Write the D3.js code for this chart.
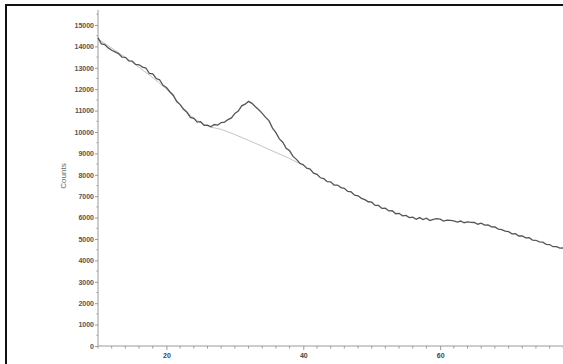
<!DOCTYPE html>
<html><head><meta charset="utf-8">
<script src="https://cdn.jsdelivr.net/npm/d3@7"></script>
<style>body{margin:0;background:#fff}svg{display:block}</style>
</head><body>
<script>
const angles = [10.0,10.5,11.0,11.5,12.0,12.5,13.0,13.5,14.0,14.5,15.0,15.5,16.0,16.5,17.0,17.5,18.0,18.5,19.0,19.5,20.0,20.5,21.0,21.5,22.0,22.5,23.0,23.5,24.0,24.5,25.0,25.5,26.0,26.5,27.0,27.5,28.0,28.5,29.0,29.5,30.0,30.5,31.0,31.5,32.0,32.5,33.0,33.5,34.0,34.5,35.0,35.5,36.0,36.5,37.0,37.5,38.0,38.5,39.0,39.5,40.0,40.5,41.0,41.5,42.0,42.5,43.0,43.5,44.0,44.5,45.0,45.5,46.0,46.5,47.0,47.5,48.0,48.5,49.0,49.5,50.0,50.5,51.0,51.5,52.0,52.5,53.0,53.5,54.0,54.5,55.0,55.5,56.0,56.5,57.0,57.5,58.0,58.5,59.0,59.5,60.0,60.5,61.0,61.5,62.0,62.5,63.0,63.5,64.0,64.5,65.0,65.5,66.0,66.5,67.0,67.5,68.0,68.5,69.0,69.5,70.0,70.5,71.0,71.5,72.0,72.5,73.0,73.5,74.0,74.5,75.0,75.5,76.0,76.5,77.0,77.5,78.0,78.5,79.0,79.5,80.0];
const counts = [14400,14120,14080,13930,13820,13740,13660,13500,13490,13320,13310,13160,13140,13030,12990,12740,12720,12500,12440,12180,12080,11880,11720,11420,11280,11060,10920,10680,10640,10460,10480,10310,10320,10240,10350,10320,10440,10460,10580,10660,10870,10980,11220,11300,11430,11340,11180,11040,10870,10680,10520,10180,9970,9680,9520,9240,9120,8860,8720,8540,8470,8310,8270,8080,8020,7860,7820,7680,7670,7520,7520,7400,7370,7220,7200,7050,7020,6900,6840,6740,6720,6570,6570,6430,6440,6310,6320,6180,6200,6080,6100,6000,6020,5920,6000,5910,5970,5860,5920,5950,5930,5840,5880,5870,5850,5790,5840,5760,5800,5780,5770,5690,5740,5650,5660,5570,5560,5460,5440,5370,5340,5240,5250,5140,5140,5050,5060,4950,4940,4870,4850,4750,4740,4640,4640,4570,4580,4490,4500,4420,4410];
const bgAngles = [10,15,20,24,26,28,30,32,34,36,38,40];
const bgCounts = [14350,13250,12000,10650,10280,10120,9880,9610,9330,9040,8760,8430];
const yTicks = [0,1000,2000,3000,4000,5000,6000,7000,8000,9000,10000,11000,12000,13000,14000,15000];
const xTicks = [20,40,60];
const xMinor = [10,12,14,16,18,22,24,26,28,30,32,34,36,38,42,44,46,48,50,52,54,56,58,62,64,66,68,70,72,74,76,78,80];
const yLabel = "Counts";

const W = 563, H = 364;
const svg = d3.select("body").append("svg").attr("width", W).attr("height", H);
const font = "Liberation Sans, Arial, sans-serif";

// frame
svg.append("rect").attr("x",6).attr("y",5).attr("width",800).attr("height",800)
  .attr("fill","none").attr("stroke","#111").attr("stroke-width",2);

const x = d3.scaleLinear().domain([10,80]).range([98,577]);
const y = d3.scaleLinear().domain([0,15700]).range([346,10]);

const axisCol = "#9a9a9a";
// y axis
const ya = svg.append("g").attr("transform","translate(98,0)")
  .call(d3.axisLeft(y).tickValues(yTicks).tickSize(3).tickPadding(1).tickFormat(d3.format("d")));
ya.select(".domain").remove();
ya.selectAll("line").attr("stroke",axisCol);
ya.selectAll("text").attr("font-family",font).attr("font-size",7).attr("font-weight","bold").attr("fill","#555");
svg.append("line").attr("x1",98).attr("x2",98).attr("y1",10).attr("y2",y(0)).attr("stroke",axisCol);
const yMinor = yTicks.map(v=>v+500);
svg.append("g").selectAll("line").data(yMinor).join("line")
  .attr("x1",96.5).attr("x2",98).attr("y1",d=>y(d)).attr("y2",d=>y(d)).attr("stroke",axisCol);

// x axis
const xa = svg.append("g").attr("transform",`translate(0,${y(0)})`)
  .call(d3.axisBottom(x).tickValues(xTicks).tickSize(4).tickPadding(3).tickFormat(d3.format("d")));
xa.select(".domain").remove();
xa.selectAll("line").attr("stroke",axisCol);
xa.selectAll("text").attr("font-family",font).attr("font-size",7).attr("font-weight","bold").attr("fill","#444");
svg.append("line").attr("x1",98).attr("x2",W).attr("y1",y(0)).attr("y2",y(0)).attr("stroke",axisCol);
svg.append("g").selectAll("line").data(xMinor).join("line")
  .attr("x1",d=>x(d)).attr("x2",d=>x(d)).attr("y1",y(0)).attr("y2",y(0)+2.5).attr("stroke",axisCol);

svg.append("text").attr("transform",`translate(66,176) rotate(-90)`).attr("text-anchor","middle")
  .attr("font-family",font).attr("font-size",8).attr("fill","#666").text(yLabel);

// background line
const bgData = bgAngles.map((a,i)=>[a,bgCounts[i]]);
svg.append("path").datum(bgData).attr("fill","none").attr("stroke","#c4c4c4").attr("stroke-width",1)
  .attr("d", d3.line().x(d=>x(d[0])).y(d=>y(d[1])).curve(d3.curveMonotoneX));

// data
const data = angles.map((a,i)=>[a,counts[i]]);
svg.append("path").datum(data).attr("fill","none").attr("stroke","#555").attr("stroke-width",1.3)
  .attr("d", d3.line().x(d=>x(d[0])).y(d=>y(d[1])));
</script>
</body></html>
